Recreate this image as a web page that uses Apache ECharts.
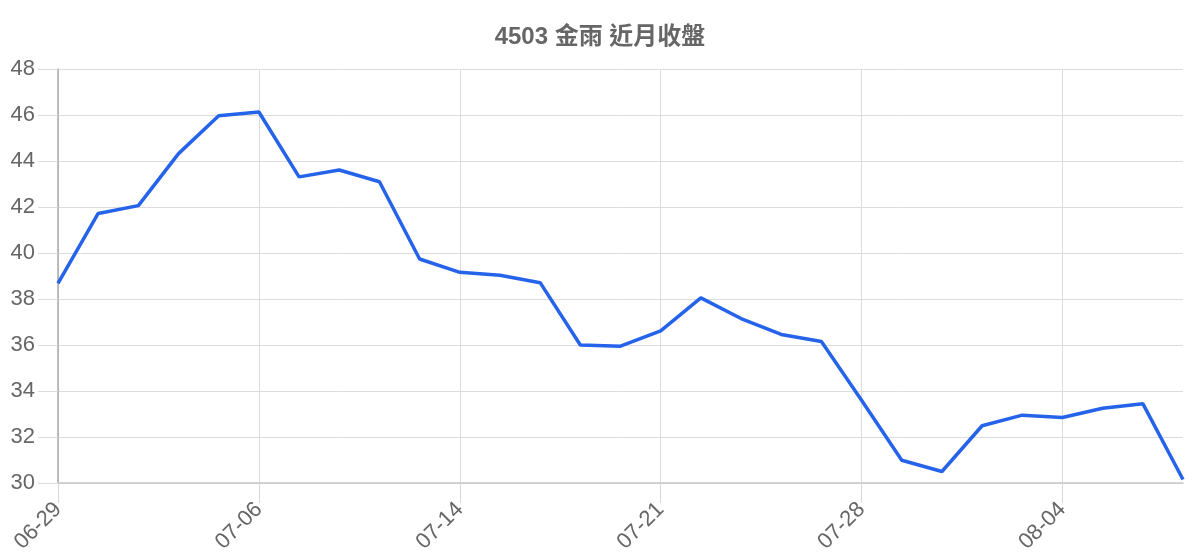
<!DOCTYPE html>
<html><head><meta charset="utf-8">
<script src="https://cdn.jsdelivr.net/npm/echarts@6/dist/echarts.min.js"></script>
<style>html,body{margin:0;padding:0;background:#fff}#c{width:1200px;height:560px}</style>
</head><body><div id="c"></div>
<script>
const titleText = '4503 金雨 近月收盤';
const dates = ['06-29','06-30','07-01','07-02','07-03','07-06','07-07','07-08','07-09','07-10',
  '07-14','07-15','07-16','07-17','07-20','07-21','07-22','07-23','07-24','07-27',
  '07-28','07-29','07-30','07-31','08-03','08-04','08-05','08-06','08-07'];
const closes = [38.68,41.72,42.06,44.32,45.97,46.13,43.31,43.61,43.10,39.74,
  39.16,39.03,38.71,36.00,35.95,36.61,38.05,37.15,36.46,36.15,
  33.60,30.99,30.50,32.49,32.95,32.85,33.25,33.45,30.15];
const yMin = 30, yMax = 48, yStep = 2;

const fontFam = '"Liberation Sans", Arial, "Noto Sans CJK TC", sans-serif';
const chart = echarts.init(document.getElementById('c'));
chart.setOption({
  animation: false,
  backgroundColor: '#fff',
  title: {
    text: titleText, left: 'center', top: 20,
    textStyle: {fontSize: 24, fontWeight: 'bold', color: '#666', fontFamily: fontFam}
  },
  grid: {left: 58, right: 17, top: 69, bottom: 77},
  xAxis: {
    type: 'category', data: dates, boundaryGap: false,
    axisLine: {show: true, lineStyle: {color: '#c8c8c8', width: 1.5}},
    axisTick: {show: true, interval: 4, length: 20, lineStyle: {color: '#d8d8d8'}},
    axisLabel: {interval: 4, rotate: 45, fontSize: 22, color: '#666', margin: 23, fontFamily: fontFam},
    splitLine: {show: true, interval: 4, lineStyle: {color: '#dcdcdc', width: 1}}
  },
  yAxis: {
    type: 'value', min: yMin, max: yMax, interval: yStep,
    axisLine: {show: true, lineStyle: {color: '#aaaaaa', width: 1.5}},
    axisTick: {show: true, length: 20, lineStyle: {color: '#dcdcdc'}},
    axisLabel: {fontSize: 22, color: '#666', margin: 23, fontFamily: fontFam},
    splitLine: {show: true, lineStyle: {color: '#dcdcdc', width: 1}}
  },
  series: [{
    type: 'line', data: closes, showSymbol: false, symbol: 'none',
    lineStyle: {color: '#2563eb', width: 3.5}, itemStyle: {color: '#2563eb'}
  }]
});
</script></body></html>
